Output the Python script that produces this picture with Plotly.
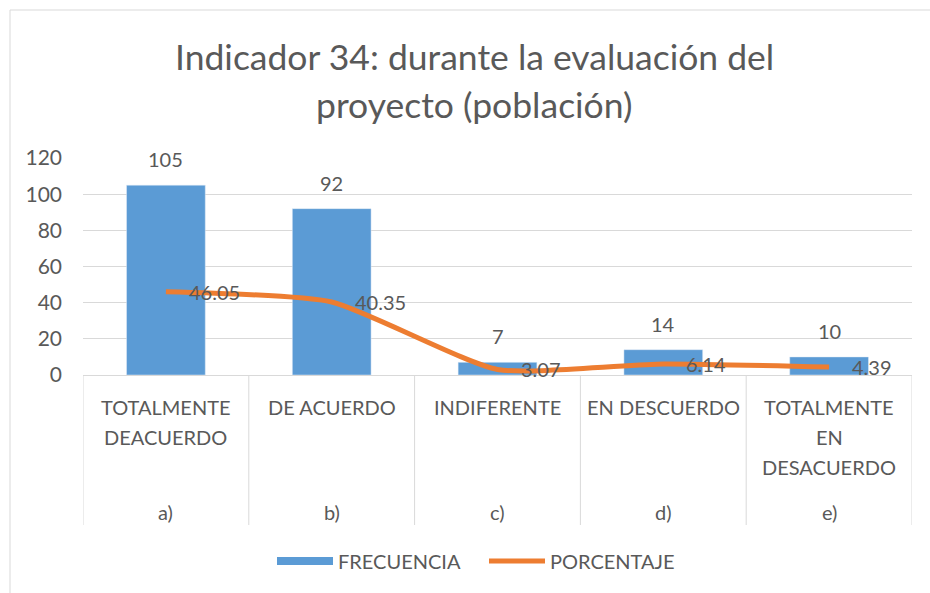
import plotly.graph_objects as go

# Survey results: indicator 34, project evaluation (population)
groups = ["a)", "b)", "c)", "d)", "e)"]
categories = [
    "TOTALMENTE<br>DEACUERDO",
    "DE ACUERDO",
    "INDIFERENTE",
    "EN DESCUERDO",
    "TOTALMENTE<br>EN<br>DESACUERDO",
]
frecuencia = [105, 92, 7, 14, 10]
porcentaje = [46.05, 40.35, 3.07, 6.14, 4.39]
y_ticks = [0, 20, 40, 60, 80, 100, 120]
title_lines = ["Indicador 34: durante la evaluación del", "proyecto (población)"]

BLUE = "#5B9BD5"
ORANGE = "#ED7D31"
TEXT = "#595959"
GRID = "#D9D9D9"
FONT = "Lato"

W, H = 930, 593
L, R, T, B = 83, 18, 158, 218
PW, PH = W - L - R, H - T - B


def px_y(py):
    """Pixel row -> paper y."""
    return (H - B - py) / PH


def px_x(px):
    """Pixel column -> paper x."""
    return (px - L) / PW


xs = list(range(len(groups)))

fig = go.Figure()

fig.add_trace(go.Bar(
    x=xs, y=frecuencia, name="FRECUENCIA", marker_color=BLUE,
    showlegend=False, legendgroup="f",
))
# legend entry for the bar series drawn as a thick swatch
fig.add_trace(go.Scatter(
    x=[None], y=[None], name="FRECUENCIA", mode="lines",
    line=dict(color=BLUE, width=8), legendgroup="f",
))
fig.add_trace(go.Scatter(
    x=xs, y=porcentaje, name="PORCENTAJE", mode="lines",
    line=dict(color=ORANGE, width=5, shape="spline", smoothing=0.55),
))

annotations = []

# value labels on bars
for x, v in zip(xs, frecuencia):
    annotations.append(dict(
        x=x, y=v, xref="x", yref="y", text=str(v), showarrow=False,
        yanchor="middle", yshift=26, font=dict(size=20, color=TEXT, family=FONT),
    ))
# value labels on the line
for x, v in zip(xs, porcentaje):
    annotations.append(dict(
        x=x, y=v, xref="x", yref="y", text=f"{v:.2f}", showarrow=False,
        xanchor="left", yanchor="middle", xshift=21,
        font=dict(size=20, color=TEXT, family=FONT),
    ))

# two-level category labels below the axis
rows = [407, 437, 467]
for x, cat, grp in zip(xs, categories, groups):
    for i, line in enumerate(cat.split("<br>")):
        annotations.append(dict(
            x=x, y=px_y(rows[i]), xref="x", yref="paper", text=line,
            showarrow=False, yanchor="middle",
            font=dict(size=20, color=TEXT, family=FONT),
        ))
    annotations.append(dict(
        x=x, y=px_y(512), xref="x", yref="paper", text=grp,
        showarrow=False, yanchor="middle",
        font=dict(size=20, color=TEXT, family=FONT),
    ))

# two-line title
for text, py in zip(title_lines, [56, 104]):
    annotations.append(dict(
        x=px_x(474), y=px_y(py), xref="paper", yref="paper",
        text=text, showarrow=False, xanchor="center", yanchor="middle",
        font=dict(size=35.5, color=TEXT, family=FONT),
    ))

shapes = []
# category separators
for i in range(len(groups) + 1):
    shapes.append(dict(
        type="line", xref="x", yref="paper", x0=i - 0.5, x1=i - 0.5,
        y0=0, y1=px_y(525), line=dict(color=GRID, width=1),
    ))
# chart frame
shapes.append(dict(
    type="rect", xref="paper", yref="paper",
    x0=px_x(10), x1=px_x(940), y0=px_y(10), y1=px_y(600),
    line=dict(color=GRID, width=1), fillcolor="rgba(0,0,0,0)", layer="below",
))

fig.update_layout(
    width=W, height=H,
    margin=dict(l=L, r=R, t=T, b=B, pad=0),
    paper_bgcolor="white", plot_bgcolor="white",
    font=dict(family=FONT, color=TEXT, size=20),
    bargap=0.525,
    showlegend=True,
    legend=dict(
        orientation="h", x=px_x(484), xanchor="center",
        y=px_y(561), yanchor="middle",
        font=dict(size=20, color=TEXT, family=FONT),
        itemwidth=56, entrywidth=141, bgcolor="rgba(0,0,0,0)",
    ),
    annotations=annotations,
    shapes=shapes,
    xaxis=dict(
        range=[-0.5, len(groups) - 0.5], showticklabels=False, showgrid=False,
        zeroline=False, showline=True, linecolor=GRID, linewidth=1, ticks="",
        fixedrange=True,
    ),
    yaxis=dict(
        range=[0, 120], tickvals=y_ticks, showgrid=True, gridcolor=GRID,
        gridwidth=1, zeroline=False, showline=False, ticks="",
        ticklabelstandoff=20, tickfont=dict(size=21, color=TEXT, family=FONT),
        fixedrange=True,
    ),
)

fig.write_html("out.html")
